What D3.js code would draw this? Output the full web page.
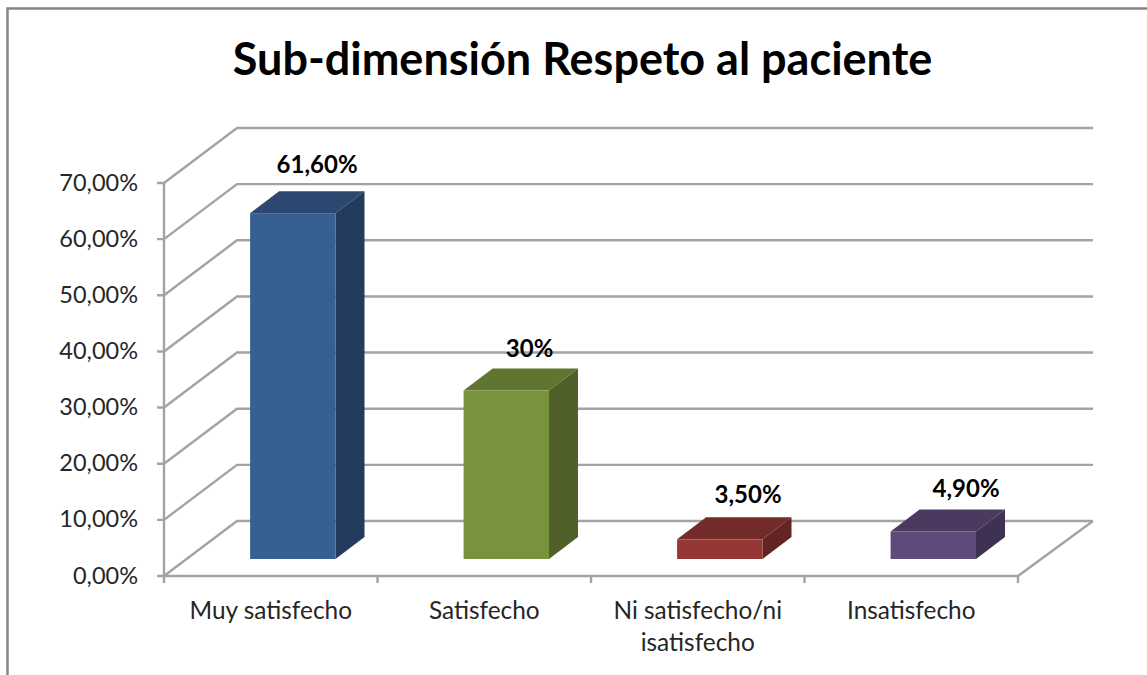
<!DOCTYPE html>
<html>
<meta charset="utf-8">
<head>
    <script src="https://d3js.org/d3.v7.min.js"></script>
</head>
<style>
  body { margin: 0; background: #fff; }
  svg { display: block; font-family: Lato, "Open Sans", sans-serif; }
  .grid { fill: none; stroke: #a3a3a3; stroke-width: 2.4; }
  .tick-label { fill: #262626; font-size: 23.5px; }
  .cat { font-size: 24.4px; }
  .value-label { fill: #000; font-size: 24px; font-weight: 700; text-anchor: middle; }
</style>
<body>
<script>
var categories = ["Muy satisfecho", "Satisfecho", "Ni satisfecho/ni|isatisfecho", "Insatisfecho"];
var values = [61.6, 30, 3.5, 4.9];
var valueLabels = ["61,60%", "30%", "3,50%", "4,90%"];
var frontColors = ["#366092", "#77933c", "#953735", "#604a7b"];
var topColors = ["#2c4770", "#5f7530", "#722b29", "#4b395f"];
var sideColors = ["#233b5c", "#4f6128", "#632523", "#3f3151"];
var yTicks = [0, 10, 20, 30, 40, 50, 60, 70];
var title = "Sub-dimensión Respeto al paciente";

var width = 1147, height = 675;
var floorDx = 73, floorDy = -55;     // front plane to back wall
var backRight = 1093;
var depthDx = 29, depthDy = -22;     // bar depth
var barLift = 17;                    // bars stand in the middle of the floor
var labelDx = [0, -1, 4, 8.5];       // labels were moved by hand in the original
var labelDy = [2, 8, 6, 8];

var svg = d3.select("body").append("svg")
    .attr("width", width)
    .attr("height", height);

var x = d3.scaleBand().domain(categories).range([164, 1018]);
var y = d3.scaleLinear().domain([0, 70]).range([576, 183]);

// frame, no line on the right
svg.append("path")
    .attr("d", "M7.5,675V8.5H1147")
    .attr("fill", "none")
    .attr("stroke", "#868686")
    .attr("stroke-width", 2.5);

svg.append("text")
    .attr("x", 582.5)
    .attr("y", 75)
    .attr("text-anchor", "middle")
    .attr("font-size", 45)
    .attr("font-weight", 700)
    .attr("fill", "#000")
    .text(title);

// walls
var grid = svg.append("g");
yTicks.forEach(function(t) {
    grid.append("path").attr("class", "grid")
        .attr("d", d3.line()([
            [x.range()[0] - 7, y(t)],
            [x.range()[0], y(t)],
            [x.range()[0] + floorDx, y(t) + floorDy],
            [backRight, y(t) + floorDy]
        ]));
});
grid.append("path").attr("class", "grid")
    .attr("d", d3.line()([[x.range()[0], y(70)], [x.range()[0], y(0) + 7]]));
grid.append("path").attr("class", "grid")
    .attr("d", d3.line()([
        [x.range()[0], y(0)],
        [x.range()[1], y(0)],
        [backRight, y(0) + floorDy]
    ]));
x.domain().forEach(function(c) {
    grid.append("path").attr("class", "grid")
        .attr("d", d3.line()([[x(c) + x.bandwidth(), y(0)], [x(c) + x.bandwidth(), y(0) + 7]]));
});

svg.selectAll(".tick-label")
    .data(yTicks)
    .enter().append("text")
    .attr("class", "tick-label")
    .attr("x", 138)
    .attr("y", function(d) { return y(d) + 7.5; })
    .attr("text-anchor", "end")
    .text(function(d) { return d3.format(".2f")(d).replace(".", ",") + "%"; });

// bars
var bars = svg.selectAll(".bar")
    .data(categories)
    .enter().append("g")
    .attr("class", "bar");

function barLeft(c) { return x(c) + x.bandwidth() * 0.4 + 0.7; }
function barRight(c) { return barLeft(c) + x.bandwidth() * 0.4; }
function barTop(c, i) { return y(values[i]) - barLift; }
function barBottom() { return y(0) - barLift; }

bars.append("path")
    .attr("fill", function(c, i) { return topColors[i]; })
    .attr("d", function(c, i) {
        return d3.line()([
            [barLeft(c), barTop(c, i)],
            [barLeft(c) + depthDx, barTop(c, i) + depthDy],
            [barRight(c) + depthDx, barTop(c, i) + depthDy],
            [barRight(c), barTop(c, i)]
        ]) + "Z";
    });
bars.append("path")
    .attr("fill", function(c, i) { return sideColors[i]; })
    .attr("d", function(c, i) {
        return d3.line()([
            [barRight(c), barTop(c, i)],
            [barRight(c) + depthDx, barTop(c, i) + depthDy],
            [barRight(c) + depthDx, barBottom() + depthDy],
            [barRight(c), barBottom()]
        ]) + "Z";
    });
bars.append("rect")
    .attr("fill", function(c, i) { return frontColors[i]; })
    .attr("x", barLeft)
    .attr("y", barTop)
    .attr("width", function(c) { return barRight(c) - barLeft(c); })
    .attr("height", function(c, i) { return barBottom() - barTop(c, i); });

bars.append("text")
    .attr("class", "value-label")
    .attr("x", function(c, i) { return barLeft(c) + 67 + labelDx[i]; })
    .attr("y", function(c, i) { return barTop(c, i) - 42 + labelDy[i]; })
    .text(function(c, i) { return valueLabels[i]; });

// category labels, "|" marks the line break
var catLabels = svg.selectAll(".cat")
    .data(categories)
    .enter().append("text")
    .attr("class", "tick-label cat")
    .attr("text-anchor", "middle")
    .attr("y", 618.5);
catLabels.selectAll("tspan")
    .data(function(c) { return c.split("|").map(function(t) { return { c: c, t: t }; }); })
    .enter().append("tspan")
    .attr("x", function(d) { return x(d.c) + x.bandwidth() / 2; })
    .attr("dy", function(d, i) { return i ? 32 : 0; })
    .text(function(d) { return d.t; });
</script>
</body>
</html>
